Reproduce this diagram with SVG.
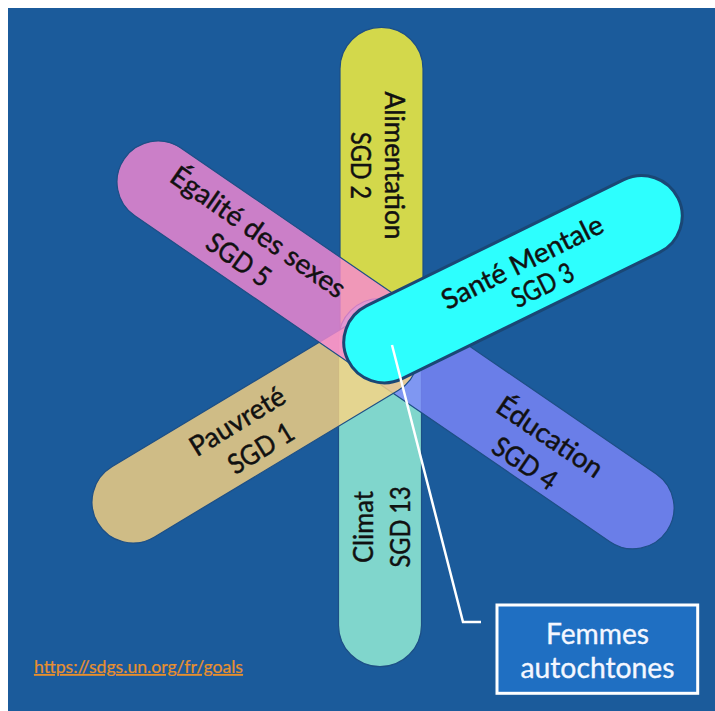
<svg xmlns="http://www.w3.org/2000/svg" width="715" height="711" viewBox="0 0 715 711">
<style>
.lbl{font-family:Lato,"Open Sans","Liberation Sans",sans-serif;fill:#111;stroke:#111;stroke-width:0.45;text-anchor:middle}
.d{font-size:27.5px}
.v{font-size:26px}
.pill{stroke:#1d4f86;stroke-width:1.2}
.tp{fill-opacity:0.8}
.box{font-family:Lato,"Open Sans","Liberation Sans",sans-serif;font-size:28px;fill:#f4f7ff;stroke:#f4f7ff;stroke-width:0.35;text-anchor:middle}
</style>
<rect x="0" y="0" width="715" height="711" fill="#ffffff"/>
<rect x="8" y="8" width="707" height="703" fill="#1b5b9b"/>

<g id="alimentation">
<rect class="pill" x="340" y="27.3" width="83" height="354.2" rx="41.5" fill="#d3d84b"/>
</g>
<g id="climat">
<rect class="pill" x="338.5" y="298.5" width="83" height="368.2" rx="41.5" fill="#80d6cc"/>
</g>
<g id="education">
<rect class="pill tp" transform="translate(405,351.7) rotate(34.4)" x="-41" y="-41" width="358.4" height="82" rx="41" fill="#7e87fb"/>
</g>
<g id="pauvrete">
<rect class="pill tp" transform="translate(133,502) rotate(-31)" x="-41" y="-41" width="367" height="82" rx="41" fill="#fdd481"/>
</g>
<g id="egalite">
<path class="pill tp" transform="translate(158,182) rotate(34.45)" d="M290,-41 L0,-41 A41,41 0 0 0 0,41 L280,41 Z" fill="#f888d3"/>
</g>
<g id="sante">
<rect transform="translate(384.3,342.3) rotate(-26.13)" x="-40.5" y="-40.5" width="367.7" height="81" rx="40.5" fill="#2dfffe" stroke="#1a4775" stroke-width="3"/>
</g>

<g id="labels">
<g transform="translate(381.5,165.5) rotate(90)">
<text class="lbl v" x="0" y="-3.5" textLength="148" lengthAdjust="spacingAndGlyphs">Alimentation</text>
<text class="lbl v" x="0" y="30.5" textLength="67" lengthAdjust="spacingAndGlyphs">SGD 2</text>
</g>
<g transform="translate(380,527) rotate(-90)">
<text class="lbl v" x="0" y="-6.7" textLength="72" lengthAdjust="spacingAndGlyphs">Climat</text>
<text class="lbl v" x="0" y="30" textLength="81" lengthAdjust="spacingAndGlyphs">SGD 13</text>
</g>
<g transform="translate(249,434.6) rotate(-31.5)">
<text class="lbl d" x="-3" y="-8" textLength="107" lengthAdjust="spacingAndGlyphs">Pauvreté</text>
<text class="lbl d" x="3" y="27.5" textLength="72" lengthAdjust="spacingAndGlyphs">SGD 1</text>
</g>
<g transform="translate(537.5,450) rotate(34)">
<text class="lbl d" x="3" y="-8.3" textLength="122" lengthAdjust="spacingAndGlyphs">Éducation</text>
<text class="lbl d" x="-3" y="27.7" textLength="72" lengthAdjust="spacingAndGlyphs">SGD 4</text>
</g>
<g transform="translate(248.5,246) rotate(35)">
<text class="lbl d" x="0" y="-7.5" textLength="207" lengthAdjust="spacingAndGlyphs">Égalité des sexes</text>
<text class="lbl d" x="0" y="26.5" textLength="72" lengthAdjust="spacingAndGlyphs">SGD 5</text>
</g>
<g transform="translate(532.5,273.7) rotate(-26.5)">
<text class="lbl d" x="-4" y="-5.4" textLength="177" lengthAdjust="spacingAndGlyphs">Santé Mentale</text>
<text class="lbl d" x="4" y="24.4" textLength="66" lengthAdjust="spacingAndGlyphs">SGD 3</text>
</g>
</g>

<g id="connectors">
<polyline points="392,345 463,622 481,622" fill="none" stroke="#ffffff" stroke-width="2.5"/>
</g>

<g id="femmes-autochtones">
<rect x="497" y="605" width="200.7" height="88.3" fill="#1f6fc2" stroke="#ffffff" stroke-width="3"/>
<text class="box" x="597.5" y="643.5" textLength="103" lengthAdjust="spacingAndGlyphs">Femmes</text>
<text class="box" x="597.5" y="678" textLength="154" lengthAdjust="spacingAndGlyphs">autochtones</text>
</g>

<g id="source">
<text x="34" y="673" font-family="Lato,'Open Sans','Liberation Sans',sans-serif" font-size="17.5" fill="#e8902e" stroke="#e8902e" stroke-width="0.2" text-decoration="underline" textLength="209" lengthAdjust="spacingAndGlyphs">https://sdgs.un.org/fr/goals</text>
</g>
</svg>
